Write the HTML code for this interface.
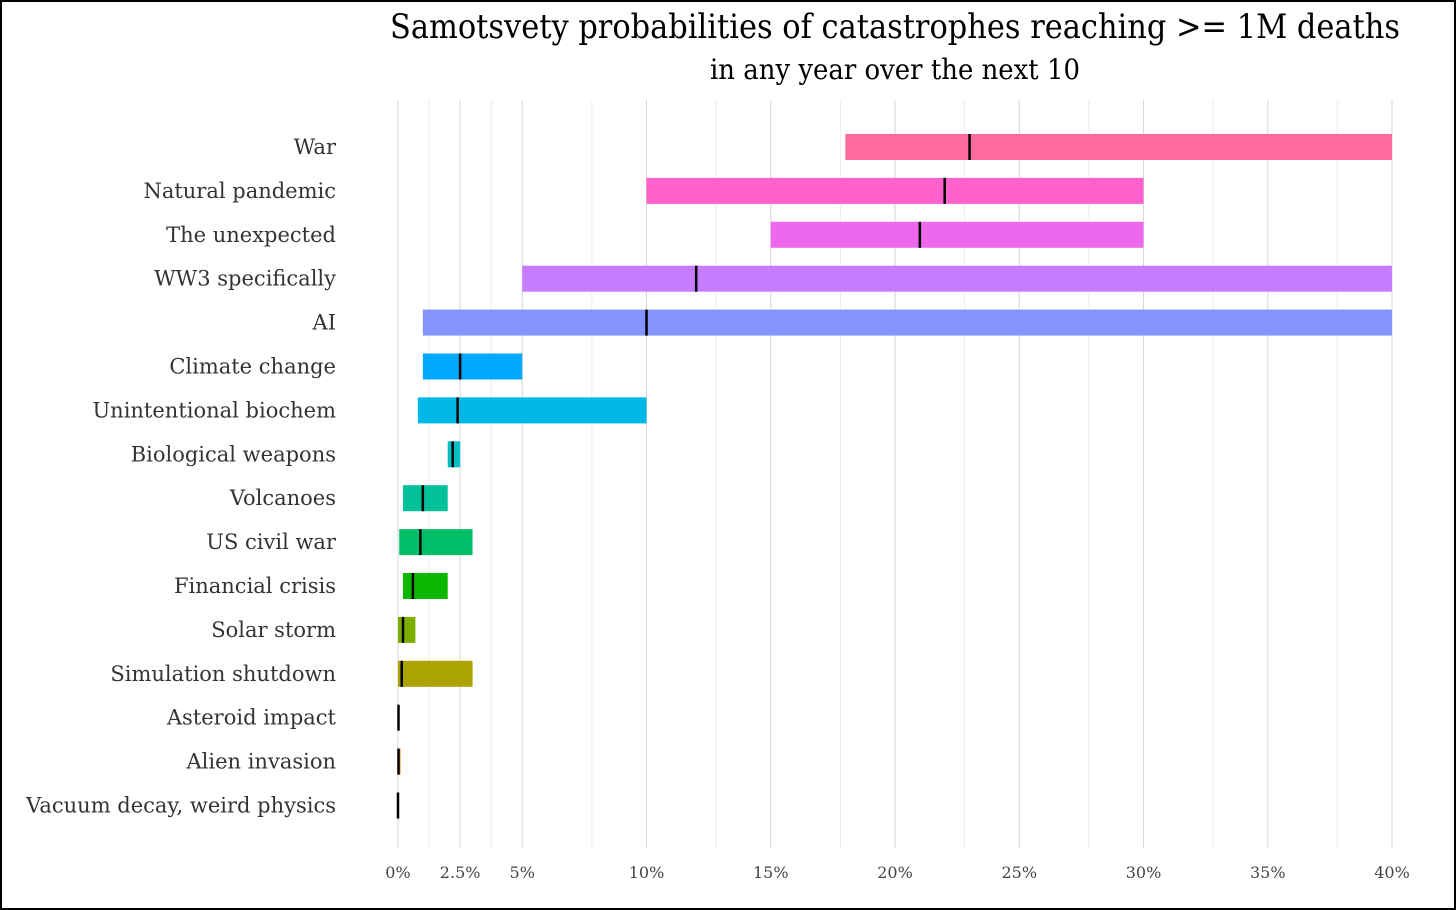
<!DOCTYPE html>
<html><head><meta charset="utf-8">
<style>
html,body{margin:0;padding:0;background:#fff;}
svg{display:block;}
text{font-family:"DejaVu Serif","Liberation Serif",serif;}
</style></head>
<body>
<svg id="chart" width="1456" height="910" viewBox="0 0 1456 910">
<rect x="1" y="1" width="1454" height="908" fill="#fff" stroke="#000" stroke-width="2"/>
<text x="895" y="38" text-anchor="middle" font-size="34" fill="#000" textLength="1010" lengthAdjust="spacingAndGlyphs">Samotsvety probabilities of catastrophes reaching &gt;= 1M deaths</text>
<text x="895" y="79" text-anchor="middle" font-size="28" fill="#000" textLength="370" lengthAdjust="spacingAndGlyphs">in any year over the next 10</text>
<g id="grid"></g>
<g id="bars"></g>
<g id="labels"></g>
<g id="ticks"></g>
</svg>
<script>
const categories=["War","Natural pandemic","The unexpected","WW3 specifically","AI","Climate change","Unintentional biochem","Biological weapons","Volcanoes","US civil war","Financial crisis","Solar storm","Simulation shutdown","Asteroid impact","Alien invasion","Vacuum decay, weird physics"];
const lowValues=[18,10,15,5,1,1,0.8,2,0.2,0.05,0.2,0,0,0,0,0];
const highValues=[40,30,30,40,40,5,10,2.5,2,3,2,0.7,3,0.02,0.1,0.01];
const medianValues=[23,22,21,12,10,2.5,2.4,2.2,1,0.9,0.6,0.2,0.15,0.02,0.02,0];
const colors=["#ff6b9d","#ff61cc","#ed68ed","#c77cff","#8494ff","#00a9ff","#00b8e7","#00bfc4","#00c19a","#00be67","#0cb702","#7cae00","#aba300","#de8c00","#e68613","#f8766d"];
const tickValues=[0,2.5,5,10,15,20,25,30,35,40];
const tickLabels=["0%","2.5%","5%","10%","15%","20%","25%","30%","35%","40%"];
const minorValues=[1.25,3.75,7.8,12.8,17.8,22.8,27.8,32.8,37.8];

const NS="http://www.w3.org/2000/svg";
const xScale=v=>398+24.85*v;
const yScale=i=>147+43.9*i;
const plotTop=100,plotBottom=848;
function mk(tag,attrs,parent){const e=document.createElementNS(NS,tag);for(const k in attrs)e.setAttribute(k,attrs[k]);document.getElementById(parent).appendChild(e);return e;}
minorValues.forEach(v=>{
 const l=mk("line",{x1:xScale(v),x2:xScale(v),y1:plotTop,y2:plotBottom,stroke:"#ececec","stroke-width":1},"grid");
 
 
});
tickValues.forEach((v,i)=>{
 const l=mk("line",{x1:xScale(v),x2:xScale(v),y1:plotTop,y2:plotBottom,stroke:"#d6d6d6","stroke-width":1},"grid");
 
 
 const t=mk("text",{x:xScale(v),y:878,"text-anchor":"middle","font-size":16,fill:"#444"},"ticks");
 t.textContent=tickLabels[i];
 
 
});
categories.forEach((c,i)=>{
 const cy=yScale(i);
 const w=Math.max(xScale(highValues[i])-xScale(lowValues[i]),1);
 const r=mk("rect",{x:xScale(lowValues[i]),y:cy-13,width:w,height:26,fill:colors[i]},"bars");
 
 
 const m=mk("rect",{x:xScale(medianValues[i])-1.25,y:cy-13,width:2.5,height:26,fill:"#000"},"bars");
 
 
 const t=mk("text",{x:336,y:cy+7,"text-anchor":"end","font-size":21,fill:"#333"},"labels");
 t.textContent=c;
 
 
});
</script>
</body></html>
